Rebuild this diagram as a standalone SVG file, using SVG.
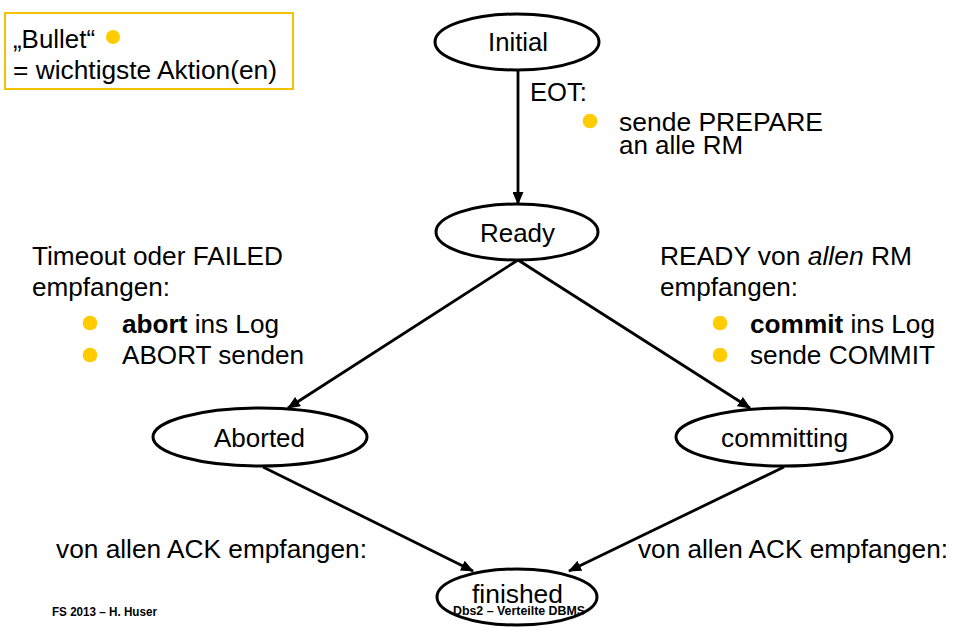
<svg xmlns="http://www.w3.org/2000/svg" width="953" height="627" viewBox="0 0 953 627">
<defs>
<style>
text{font-family:"Liberation Sans",Arial,sans-serif;fill:#000}
.t{font-size:25px}
.n{font-size:25.5px}
.f{font-size:12px;font-weight:bold}
.node{fill:#fff;stroke:#000;stroke-width:3}
.edge{stroke:#000;stroke-width:2.8;fill:none;marker-end:url(#arr)}
.dot{fill:#FFCC00}
</style>
<marker id="arr" viewBox="0 0 13 11" refX="12" refY="5.5" markerWidth="13" markerHeight="11" markerUnits="userSpaceOnUse" orient="auto">
<path d="M0,0 L13,5.5 L0,11 z" fill="#000"/>
</marker>
</defs>
<rect width="953" height="627" fill="#fff"/>

<g id="legend">
<rect x="5" y="13" width="288" height="76" fill="#fff" stroke="#F2C200" stroke-width="2"/>
<text class="t" x="13" y="48" textLength="82" lengthAdjust="spacingAndGlyphs">„Bullet“</text>
<circle class="dot" cx="113" cy="37" r="7"/>
<text class="t" x="13" y="79" textLength="264" lengthAdjust="spacingAndGlyphs">= wichtigste Aktion(en)</text>
</g>

<g id="connectors">
<line class="edge" x1="518" y1="70" x2="518" y2="204"/>
<line class="edge" x1="518" y1="260" x2="288" y2="408"/>
<line class="edge" x1="518" y1="260" x2="750" y2="408"/>
<line class="edge" x1="263" y1="467" x2="473" y2="571"/>
<line class="edge" x1="784" y1="467" x2="569" y2="571"/>
</g>

<g id="label-eot">
<text class="t" x="530" y="101" textLength="57" lengthAdjust="spacingAndGlyphs">EOT:</text>
<circle class="dot" cx="590" cy="121" r="7.3"/>
<text class="t" x="619" y="131" textLength="204" lengthAdjust="spacingAndGlyphs">sende PREPARE</text>
<text class="t" x="619" y="154" textLength="124" lengthAdjust="spacingAndGlyphs">an alle RM</text>
</g>

<g id="label-abort">
<text class="t" x="32" y="265" textLength="251" lengthAdjust="spacingAndGlyphs">Timeout oder FAILED</text>
<text class="t" x="32" y="296" textLength="138" lengthAdjust="spacingAndGlyphs">empfangen:</text>
<circle class="dot" cx="90" cy="323" r="7.3"/>
<circle class="dot" cx="90" cy="355" r="7.3"/>
<text class="t" x="122" y="333" textLength="157" lengthAdjust="spacingAndGlyphs"><tspan font-weight="bold">abort</tspan> ins Log</text>
<text class="t" x="122" y="364" textLength="182" lengthAdjust="spacingAndGlyphs">ABORT senden</text>
</g>

<g id="label-commit">
<text class="t" x="660" y="265" textLength="252" lengthAdjust="spacingAndGlyphs">READY von <tspan font-style="italic">allen</tspan> RM</text>
<text class="t" x="660" y="296" textLength="138" lengthAdjust="spacingAndGlyphs">empfangen:</text>
<circle class="dot" cx="720" cy="323" r="7.3"/>
<circle class="dot" cx="720" cy="355" r="7.3"/>
<text class="t" x="750" y="333" textLength="185" lengthAdjust="spacingAndGlyphs"><tspan font-weight="bold">commit</tspan> ins Log</text>
<text class="t" x="750" y="364" textLength="185" lengthAdjust="spacingAndGlyphs">sende COMMIT</text>
</g>

<g id="label-ack-left">
<text class="t" x="56" y="558" textLength="311" lengthAdjust="spacingAndGlyphs">von allen ACK empfangen:</text>
</g>
<g id="label-ack-right">
<text class="t" x="638" y="558" textLength="310" lengthAdjust="spacingAndGlyphs">von allen ACK empfangen:</text>
</g>

<g id="node-initial">
<ellipse class="node" cx="517" cy="42" rx="82" ry="28"/>
<text class="n" x="488" y="51" textLength="60" lengthAdjust="spacingAndGlyphs">Initial</text>
</g>
<g id="node-ready">
<ellipse class="node" cx="517" cy="232" rx="81" ry="28"/>
<text class="n" x="480" y="242" textLength="75" lengthAdjust="spacingAndGlyphs">Ready</text>
</g>
<g id="node-aborted">
<ellipse class="node" cx="260" cy="437" rx="107" ry="29"/>
<text class="n" x="214" y="447" textLength="91" lengthAdjust="spacingAndGlyphs">Aborted</text>
</g>
<g id="node-committing">
<ellipse class="node" cx="784" cy="437" rx="108" ry="29"/>
<text class="n" x="721" y="447" textLength="127" lengthAdjust="spacingAndGlyphs">committing</text>
</g>
<g id="node-finished">
<ellipse class="node" cx="517" cy="597" rx="80" ry="28"/>
<text class="n" x="472" y="603" textLength="91" lengthAdjust="spacingAndGlyphs">finished</text>
</g>

<g id="footer">
<text class="f" x="52" y="616" textLength="105" lengthAdjust="spacingAndGlyphs">FS 2013 – H. Huser</text>
<text class="f" x="453" y="615" textLength="132" lengthAdjust="spacingAndGlyphs">Dbs2 – Verteilte DBMS</text>
</g>
</svg>
